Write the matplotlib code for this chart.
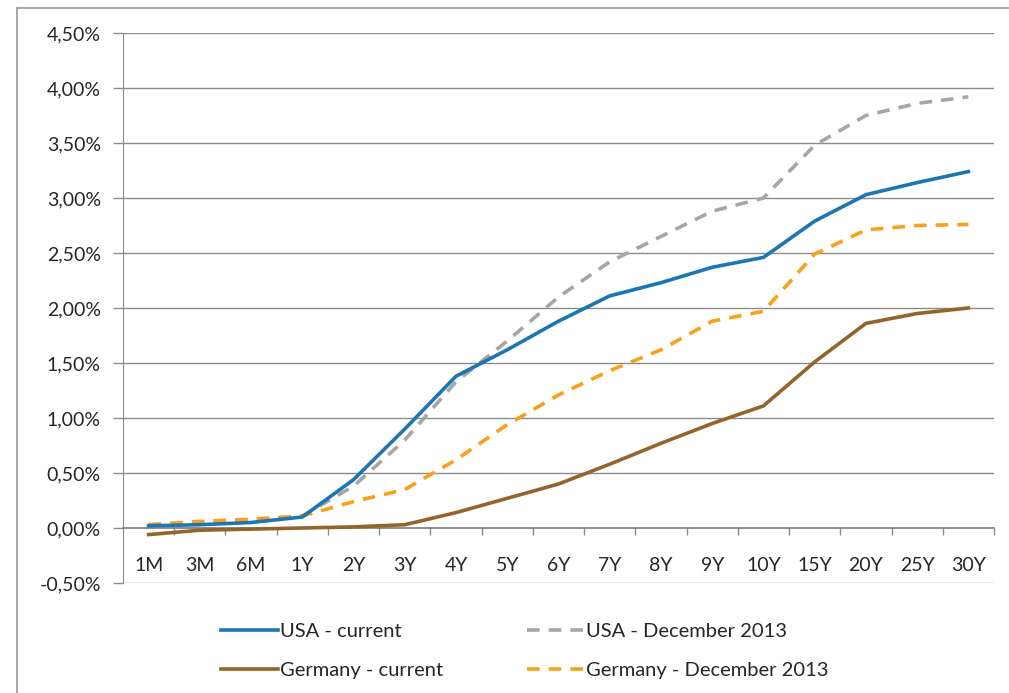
import matplotlib.pyplot as plt
from matplotlib.lines import Line2D
from matplotlib.ticker import FixedLocator, FuncFormatter

maturities = ['1M', '3M', '6M', '1Y', '2Y', '3Y', '4Y', '5Y', '6Y', '7Y', '8Y',
              '9Y', '10Y', '15Y', '20Y', '25Y', '30Y']

usa_current = [0.02, 0.03, 0.05, 0.10, 0.44, 0.90, 1.38, 1.62, 1.88, 2.11, 2.23,
               2.37, 2.46, 2.79, 3.03, 3.14, 3.24]
usa_dec2013 = [0.03, 0.04, 0.07, 0.11, 0.38, 0.80, 1.33, 1.70, 2.10, 2.42, 2.65,
               2.88, 3.00, 3.48, 3.75, 3.86, 3.92]
germany_current = [-0.06, -0.02, -0.01, 0.00, 0.01, 0.03, 0.14, 0.27, 0.40, 0.58, 0.77,
                   0.95, 1.11, 1.51, 1.86, 1.95, 2.00]
germany_dec2013 = [0.03, 0.06, 0.08, 0.11, 0.24, 0.35, 0.62, 0.94, 1.21, 1.43, 1.62,
                   1.88, 1.97, 2.49, 2.71, 2.75, 2.76]

plt.rcParams['font.family'] = ['Lato', 'DejaVu Sans']

fig = plt.figure(figsize=(10.09, 6.93), dpi=100)
ax = fig.add_axes([123 / 1009, 110 / 693, 871 / 1009, 550 / 693])

x = list(range(len(maturities)))
grid_col = '#8c8c8c'
txt_col = '#262626'

# lignes de grille horizontales
ax.set_ylim(-0.5, 4.5)
ax.set_xlim(-0.5, len(maturities) - 0.5)
yt = [i * 0.5 for i in range(-1, 10)]
ax.set_yticks(yt)
ax.yaxis.set_major_formatter(FuncFormatter(lambda v, p: ('%.2f%%' % v).replace('.', ',')))
for v in yt:
    if v != 0:
        ax.axhline(v, color=grid_col, lw=1.0, zorder=1)
ax.tick_params(axis='y', length=7, width=1.0, color=grid_col, labelsize=14,
               labelcolor=txt_col, pad=9)

# axe des catégories sur le zéro
ax.spines['bottom'].set_position(('data', 0))
ax.spines['bottom'].set_color('#7a7a7a')
ax.spines['bottom'].set_linewidth(1.2)
ax.spines['left'].set_color(grid_col)
ax.spines['top'].set_visible(False)
ax.spines['right'].set_visible(False)
ax.set_xticks(x)
ax.set_xticklabels(maturities)
ax.tick_params(axis='x', length=0, pad=21, labelsize=14, labelcolor=txt_col)
ax.xaxis.set_minor_locator(FixedLocator([i + 0.5 for i in x]))
ax.tick_params(axis='x', which='minor', length=5, width=1.0, color=grid_col)

lw = 2.6
ax.plot(x, usa_dec2013, color='#a6a6a6', lw=lw, dashes=(3.5, 2.5), zorder=3)
ax.plot(x, germany_dec2013, color='#f9a11b', lw=lw, dashes=(3.5, 2.5), zorder=3)
ax.plot(x, germany_current, color='#94652a', lw=lw, zorder=4)
ax.plot(x, usa_current, color='#1c76b4', lw=lw, zorder=5)

handles = [
    Line2D([], [], color='#1c76b4', lw=lw),
    Line2D([], [], color='#94652a', lw=lw),
    Line2D([], [], color='#a6a6a6', lw=lw, dashes=(3.5, 2.5)),
    Line2D([], [], color='#f9a11b', lw=lw, dashes=(3.5, 2.5)),
]
labels = ['USA - current', 'Germany - current', 'USA - December 2013', 'Germany - December 2013']
leg = fig.legend(handles, labels, ncol=2, loc='upper left', bbox_to_anchor=(203 / 1009, 1 - 605 / 693),
                 frameon=False, fontsize=14.5, handlelength=2.8, handletextpad=0.1,
                 columnspacing=4.2, labelspacing=1.1)
for t in leg.get_texts():
    t.set_color(txt_col)

# cadre extérieur
fig.add_artist(Line2D([17 / 1009, 17 / 1009], [0, 1 - 8 / 693], transform=fig.transFigure,
                      color='#9a9a9a', lw=1.2))
fig.add_artist(Line2D([17 / 1009, 1], [1 - 8 / 693, 1 - 8 / 693], transform=fig.transFigure,
                      color='#9a9a9a', lw=1.2))

fig.savefig('out.png', dpi=100)
